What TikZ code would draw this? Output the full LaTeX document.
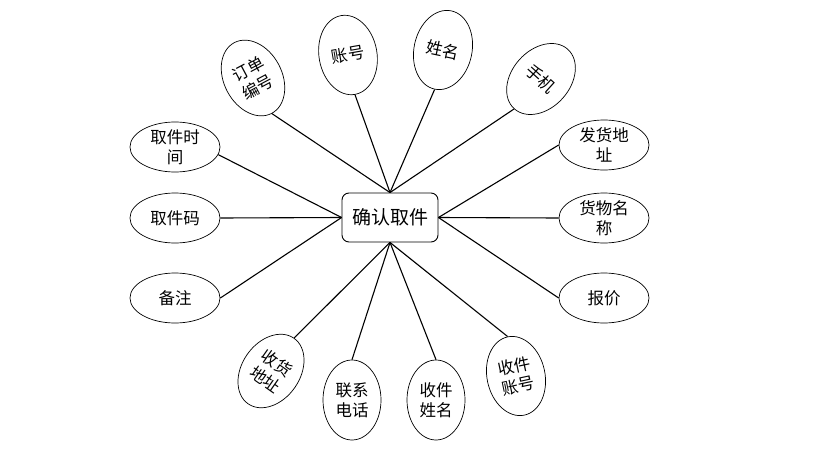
\documentclass[tikz,border=0pt]{standalone}
\usepackage{fontspec}
\newfontfamily\cjk{Noto Sans CJK SC}
\usetikzlibrary{shapes.geometric}
\begin{document}
\begin{tikzpicture}[x=1pt,y=-1pt,
  attr/.style={ellipse,draw,line width=0.7pt,inner sep=0pt,align=center,
    font=\cjk\fontsize{16.5}{20}\selectfont},
  hattr/.style={attr,minimum width=90pt,minimum height=50pt},
  vattr/.style={attr,minimum width=58pt,minimum height=80pt},
  centre/.style={draw,line width=0.9pt,rounded corners=7pt,minimum width=96pt,
    minimum height=49pt,font=\cjk\fontsize{19}{21}\selectfont,fill=white},
  link/.style={line width=1.1pt}]
\useasboundingbox (0,0) rectangle (824,455);
\node[centre] (c) at (390,217.5) {确认取件};
% top
\node[vattr,rotate=28] (dd) at (253,78) {订单\\编号};
\node[vattr,rotate=10] (zh) at (348,55) {账号};
\node[vattr,rotate=-12] (xm) at (443,50) {姓名};
\node[vattr,rotate=-42] (sj) at (541,79) {手机};
% right
\node[hattr] (fh) at (604,145) {发货地\\址};
\node[hattr] (hw) at (604,218) {货物名\\称};
\node[hattr] (bj) at (604,298) {报价};
% left
\node[hattr] (qs) at (175,147) {取件时\\间};
\node[hattr] (qm) at (175,218) {取件码};
\node[hattr] (bz) at (175,298) {备注};
% bottom
\node[vattr,rotate=-35] (sh) at (271,371) {收货\\地址};
\node[vattr] (lx) at (352,400) {联系\\电话};
\node[vattr] (sx) at (436,400) {收件\\姓名};
\node[vattr,rotate=12] (sz) at (516,376) {收件\\账号};
% links
\foreach \n in {dd,zh,xm,sj} \draw[link] (\n.south) -- (c.north);
\foreach \n in {fh,hw,bj} \draw[link] (\n.west) -- (c.east);
\draw[link] (qs.-10) -- (c.west);
\foreach \n in {qm,bz} \draw[link] (\n.east) -- (c.west);
\foreach \n in {sh,lx,sx,sz} \draw[link] (\n.north) -- (c.south);
\end{tikzpicture}
\end{document}
